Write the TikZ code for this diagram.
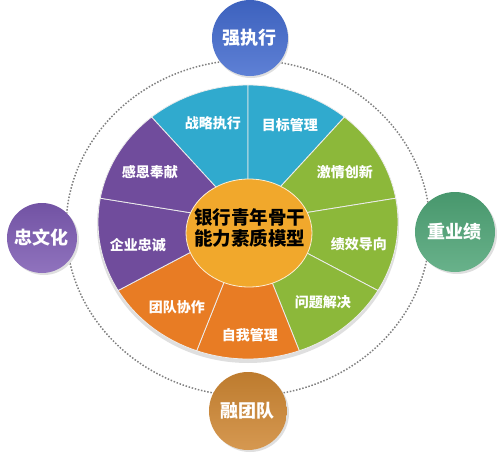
\documentclass[tikz,border=0pt]{standalone}
\usepackage{fontspec}
\setmainfont{Noto Sans CJK SC}
\usepackage{xcolor}
\usepackage{tikz}
\usetikzlibrary{positioning}
\definecolor{segblue}{RGB}{48,170,206}
\definecolor{seggreen}{RGB}{140,184,58}
\definecolor{segorange}{RGB}{232,124,36}
\definecolor{segpurple}{RGB}{112,76,156}
\definecolor{hubcol}{RGB}{241,168,44}
\definecolor{satblue}{RGB}{66,106,206}
\definecolor{satpurple}{RGB}{124,90,178}
\definecolor{satgreen}{RGB}{78,164,118}
\definecolor{satorange}{RGB}{206,134,50}
\tikzset{
  seglabel/.style={text=white,font=\bfseries\fontsize{14}{16}\selectfont},
  satlabel/.style={text=white,font=\bfseries\fontsize{18}{20}\selectfont},
  segline/.style={draw=white!85!gray,line width=.8pt}
}
\begin{document}
\begin{tikzpicture}[x=1pt,y=1pt]
\useasboundingbox (-248,-234) rectangle (256,222);
% dotted ring
\draw[gray,line width=1.5pt,dash pattern=on 1.5pt off 1.7pt] (0,-6) ellipse (182 and 168);
% wheel
\fill[gray!25] (0,-3) ellipse (151 and 138);
\fill[segblue,segline] (0,0) -- (90:150 and 137) arc[start angle=90,end angle=130,x radius=150,y radius=137] -- cycle;
\fill[segblue,segline] (0,0) -- (50:150 and 137) arc[start angle=50,end angle=90,x radius=150,y radius=137] -- cycle;
\fill[seggreen,segline] (0,0) -- (10:150 and 137) arc[start angle=10,end angle=50,x radius=150,y radius=137] -- cycle;
\fill[seggreen,segline] (0,0) -- (-30:150 and 137) arc[start angle=-30,end angle=10,x radius=150,y radius=137] -- cycle;
\fill[seggreen,segline] (0,0) -- (-70:150 and 137) arc[start angle=-70,end angle=-30,x radius=150,y radius=137] -- cycle;
\fill[segorange,segline] (0,0) -- (-110:150 and 137) arc[start angle=-110,end angle=-70,x radius=150,y radius=137] -- cycle;
\fill[segorange,segline] (0,0) -- (-150:150 and 137) arc[start angle=-150,end angle=-110,x radius=150,y radius=137] -- cycle;
\fill[segpurple,segline] (0,0) -- (170:150 and 137) arc[start angle=170,end angle=210,x radius=150,y radius=137] -- cycle;
\fill[segpurple,segline] (0,0) -- (130:150 and 137) arc[start angle=130,end angle=170,x radius=150,y radius=137] -- cycle;
\node[seglabel] (strategy) at (-35,99) {战略执行};
\node[seglabel] (target) at (42,97) {目标管理};
\node[seglabel] (passion) at (97,50) {激情创新};
\node[seglabel] (perform) at (111,-22) {绩效导向};
\node[seglabel] (solve) at (75,-80) {问题解决};
\node[seglabel] (selfman) at (2,-113) {自我管理};
\node[seglabel] (team) at (-71,-85) {团队协作};
\node[seglabel] (loyal) at (-110,-23) {企业忠诚};
\node[seglabel] (grateful) at (-98,50) {感恩奉献};
% hub
\fill[hubcol,draw=white!80!hubcol,line width=.8pt] (1,-11) ellipse (63 and 54);
\node[align=center,font=\bfseries\fontsize{18.5}{21}\selectfont] (hub) at (2,-6) {银行青年骨干\\能力素质模型};
% satellites
\fill[gray!25] (3,182) circle (38);
\shade[top color=satblue!92!black,bottom color=satblue!85!white] (2,184) circle (38);
\node[satlabel] (exec) at (2,184) {强执行};
\fill[gray!25] (-204,-18) circle (35);
\shade[top color=satpurple!92!black,bottom color=satpurple!85!white] (-206,-16) circle (35);
\node[satlabel] (culture) at (-206,-16) {忠文化};
\fill[gray!25] (209,-12) circle (40);
\shade[top color=satgreen!92!black,bottom color=satgreen!85!white] (207,-10) circle (40);
\node[satlabel] (result) at (207,-10) {重业绩};
\fill[gray!25] (2,-191) circle (39);
\shade[top color=satorange!92!black,bottom color=satorange!85!white] (0,-189) circle (39);
\node[satlabel] (unity) at (0,-189) {融团队};
\end{tikzpicture}
\end{document}
